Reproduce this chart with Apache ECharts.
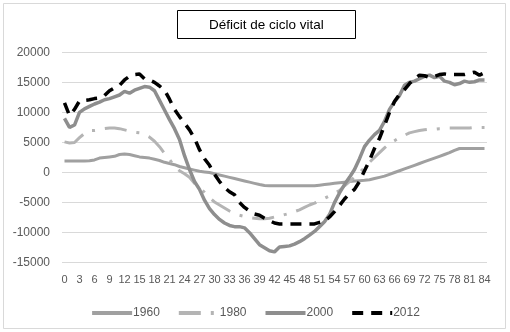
<!DOCTYPE html>
<html>
<head>
<meta charset="utf-8">
<script src="https://cdn.jsdelivr.net/npm/echarts@6/dist/echarts.min.js"></script>
<style>html,body{margin:0;padding:0;background:#fff}#c{width:510px;height:332px}</style>
</head>
<body>
<div id="c"></div>
<script>
var ages = ['0','1','2','3','4','5','6','7','8','9','10','11','12','13','14','15','16','17','18','19','20','21','22','23','24','25','26','27','28','29','30','31','32','33','34','35','36','37','38','39','40','41','42','43','44','45','46','47','48','49','50','51','52','53','54','55','56','57','58','59','60','61','62','63','64','65','66','67','68','69','70','71','72','73','74','75','76','77','78','79','80','81','82','83','84'];
var seriesNames = ['1960','1980','2000','2012'];
var yTicks = [-15000,-10000,-5000,0,5000,10000,15000,20000];
var v1960 = [1900,1900,1900,1900,1900,1950,2100,2400,2500,2600,2700,3000,3100,3000,2800,2600,2500,2400,2200,2000,1700,1500,1300,1000,800,600,400,200,100,0,-200,-400,-600,-800,-1000,-1200,-1400,-1600,-1800,-2000,-2150,-2200,-2200,-2200,-2200,-2200,-2200,-2200,-2200,-2200,-2200,-2100,-2000,-1900,-1800,-1700,-1600,-1500,-1400,-1350,-1300,-1200,-1000,-800,-600,-300,0,300,600,900,1200,1500,1800,2100,2400,2700,3000,3300,3700,4000,4000,4000,4000,4000,4000];
var v1980 = [5100,4900,5000,5800,6500,7000,7000,7100,7300,7400,7400,7300,7100,6900,6700,6600,6300,5900,5200,4300,3200,2200,1000,300,-200,-800,-1800,-2500,-3300,-4200,-4900,-5400,-5900,-6400,-6800,-7100,-7300,-7500,-7600,-7700,-7700,-7600,-7400,-7200,-7000,-6800,-6500,-6200,-5800,-5400,-5100,-4700,-4300,-3900,-3400,-3000,-2200,-1500,-800,0,800,1700,2500,3300,4100,4800,5300,5800,6200,6600,6800,7000,7100,7200,7200,7300,7300,7400,7400,7400,7400,7400,7500,7500,7500];
var v2000 = [9000,7500,7900,10000,10600,11000,11400,11700,12100,12300,12600,12900,13500,13200,13700,14000,14300,14200,13600,12000,10400,8800,7300,5500,2800,500,-1500,-2800,-4600,-6000,-7000,-7800,-8400,-8800,-9000,-9000,-9200,-10000,-11000,-12000,-12500,-13000,-13200,-12400,-12300,-12200,-11900,-11500,-11000,-10400,-9800,-9000,-8200,-7000,-5000,-3400,-2000,-800,500,2300,4300,5400,6300,7000,8500,10500,11800,12800,14500,15000,15200,15600,16000,16200,15800,16000,15200,15000,14600,14800,15200,15000,15100,15400,15400];
var v2012 = [11600,9500,10500,11900,12000,12100,12300,12400,12800,13600,14100,14500,15400,16000,16300,16400,15600,15400,15000,14400,13700,12200,10500,9300,8200,7100,5700,3800,2300,1200,-300,-1500,-2500,-3200,-3700,-5000,-5800,-6400,-6900,-7100,-7600,-8000,-8400,-8550,-8550,-8550,-8550,-8550,-8550,-8550,-8550,-8300,-8100,-7400,-6500,-5500,-4400,-3500,-2800,-1500,300,2000,4000,5700,7800,10000,11800,13000,13800,14800,15600,16200,16100,15800,16000,16300,16400,16300,16300,16300,16300,16500,16700,16200,16600];

var font = '"Liberation Sans", Arial, sans-serif';
var chart = echarts.init(document.getElementById('c'), null, {renderer: 'canvas'});
chart.setOption({
  animation: false,
  backgroundColor: '#ffffff',
  graphic: [{
    type: 'rect', shape: {x: 3.5, y: 3.5, width: 502, height: 325},
    style: {fill: 'none', stroke: '#d9d9d9', lineWidth: 1}, silent: true
  }],
  title: {
    text: 'Déficit de ciclo vital',
    left: 177, top: 10,
    padding: [8, 32, 7, 32],
    borderColor: '#000', borderWidth: 1,
    textStyle: {fontFamily: font, fontSize: 13.5, fontWeight: 'normal', color: '#000'}
  },
  legend: {
    data: seriesNames, left: 'center', top: 302,
    itemWidth: 40, itemHeight: 14, itemGap: 17,
    selectedMode: false,
    itemStyle: {opacity: 0},
    lineStyle: {width: 4},
    textStyle: {fontFamily: font, fontSize: 12, color: '#595959', padding: [0, 0, 0, -4]}
  },
  grid: {left: 62, right: 23, top: 52.3, bottom: 69.3, containLabel: false},
  xAxis: {
    type: 'category', data: ages, boundaryGap: true,
    axisLine: {show: false}, axisTick: {show: false},
    axisLabel: {interval: 2, margin: 12, fontFamily: font, fontSize: 11, color: '#595959'}
  },
  yAxis: {
    type: 'value', min: yTicks[0], max: yTicks[yTicks.length - 1], interval: 5000,
    axisLine: {show: false}, axisTick: {show: false},
    splitLine: {lineStyle: {color: '#d9d9d9', width: 1}},
    axisLabel: {margin: 12, fontFamily: font, fontSize: 12, color: '#595959',
      formatter: function (v) { return String(v); }}
  },
  series: [
    {name: seriesNames[0], type: 'line', data: v1960, symbol: 'none', smooth: false,
     itemStyle: {color: '#a0a0a0'}, lineStyle: {color: '#a0a0a0', width: 3}},
    {name: seriesNames[1], type: 'line', data: v1980, symbol: 'none',
     itemStyle: {color: '#b4b4b4'}, lineStyle: {color: '#b4b4b4', width: 3, type: [22, 10, 3, 10]}},
    {name: seriesNames[2], type: 'line', data: v2000, symbol: 'none',
     itemStyle: {color: '#8e8e8e'}, lineStyle: {color: '#8e8e8e', width: 3.5}},
    {name: seriesNames[3], type: 'line', data: v2012, symbol: 'none',
     itemStyle: {color: '#000'}, lineStyle: {color: '#000', width: 3.5, type: [11, 8]}}
  ]
});
</script>
</body>
</html>
